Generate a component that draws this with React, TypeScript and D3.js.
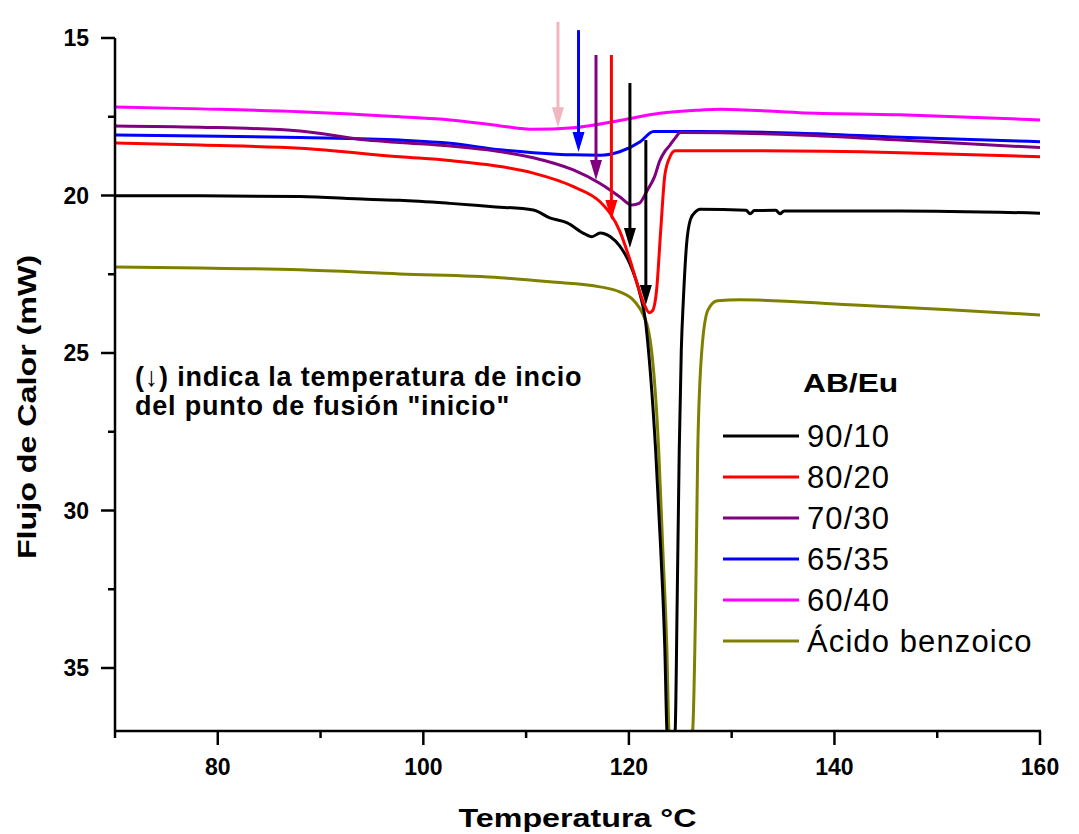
import React from "react";
import * as d3 from "d3";

// Temperatures (°C) and heat flow (mW)
const t6040 = [70, 78.3, 88, 97.7, 102.6, 107.5, 110.7, 114.6, 119.1, 123.0, 126.9, 128.9, 136.6, 146.4, 160];
const v6040 = [17.19, 17.25, 17.34, 17.5, 17.6, 17.79, 17.9, 17.85, 17.62, 17.39, 17.29, 17.26, 17.37, 17.44, 17.6];

const t6535 = [70, 78.3, 88, 97.7, 102.6, 107.5, 110.7, 114.6, 117.2, 119.1, 121.1, 122.4, 126.9, 136.6, 146.4, 160];
const v6535 = [18.08, 18.11, 18.16, 18.24, 18.34, 18.55, 18.64, 18.71, 18.72, 18.61, 18.29, 17.97, 17.97, 18.02, 18.15, 18.29];

const t7030 = [70, 78.3, 88, 94.5, 97.7, 102.6, 107.5, 110.7, 114.6, 117.2, 119.1, 120.3, 121.0, 121.8, 122.5, 123.0, 123.5, 124.0, 124.5, 125.0, 136.6, 146.4, 160];
const v7030 = [17.79, 17.83, 17.95, 18.24, 18.32, 18.43, 18.61, 18.8, 19.19, 19.62, 20.04, 20.3, 20.25, 19.83, 19.4, 18.9, 18.6, 18.4, 18.18, 18.0, 18.08, 18.24, 18.48];

const t8020 = [70, 78.3, 88, 97.7, 102.6, 107.5, 110.7, 114.6, 117.2, 118.2, 119.1, 120.1, 120.9, 121.5, 122, 122.3, 122.7, 123.1, 123.5, 124, 124.5, 131.8, 146.4, 160];
const v8020 = [18.33, 18.4, 18.5, 18.77, 18.89, 19.08, 19.29, 19.72, 20.2, 20.58, 21.12, 22.04, 22.9, 23.47, 23.72, 23.66, 22.99, 21.09, 19.35, 18.77, 18.58, 18.58, 18.64, 18.77];

const t9010 = [70, 78.3, 88, 94.5, 97.7, 102.6, 106.5, 110.7, 112.3, 114.0, 115.7, 116.4, 117.2, 118.2, 119.1, 120.1, 121.1, 121.6, 121.9, 122.6, 123.1, 123.5, 123.7, 124, 124.5, 124.7, 124.9, 125.1, 125.3, 125.6, 126.0, 126.5, 126.9, 131.4, 131.8, 132.2, 134.3, 134.7, 135.1, 146.4, 160];
const v9010 = [20.01, 20.01, 20.03, 20.12, 20.15, 20.25, 20.35, 20.46, 20.71, 20.87, 21.22, 21.31, 21.19, 21.31, 21.6, 22.17, 23.15, 23.95, 24.9, 28.07, 31.24, 34.42, 36.99, 37.9, 37, 32.83, 28.07, 24.9, 23.31, 21.6, 20.75, 20.51, 20.44, 20.47, 20.58, 20.48, 20.47, 20.58, 20.49, 20.49, 20.56];

const tAB = [70, 78.3, 88, 97.7, 107.5, 112.3, 117.2, 119.1, 120.6, 121.4, 121.9, 122.2, 122.9, 123.3, 123.7, 123.9, 125, 126.2, 126.5, 126.7, 127.1, 127.7, 128.6, 130.8, 141.5, 151.2, 160];
const vAB = [22.27, 22.3, 22.36, 22.49, 22.61, 22.74, 22.9, 23.06, 23.38, 23.79, 24.27, 24.9, 28.07, 31.24, 34.42, 36.99, 38.5, 37, 32.83, 28.07, 24.9, 23.63, 23.34, 23.31, 23.47, 23.63, 23.79];

const seriesNames = ["90/10", "80/20", "70/30", "65/35", "60/40", "Ácido benzoico"];
const seriesColors = ["#000000", "#FF0000", "#800080", "#0000FF", "#FF00FF", "#808000"];
const seriesT = [t9010, t8020, t7030, t6535, t6040, tAB];
const seriesV = [v9010, v8020, v7030, v6535, v6040, vAB];
// drawing order (back to front)
const drawOrder = [4, 3, 2, 5, 0, 1];

// onset arrows: temperature, start and tip heat-flow values
const arrowT = [113.1, 115.1, 116.8, 118.3, 120.1, 121.65];
const arrowFrom = [14.49, 14.75, 15.54, 15.54, 16.43, 18.24];
const arrowTo = [17.83, 18.62, 19.51, 20.78, 21.67, 23.48];
const arrowColors = ["#F2B6C0", "#0000FF", "#800080", "#FF0000", "#000000", "#000000"];

const xMajor = [80, 100, 120, 140, 160];
const xMinor = [70, 90, 110, 130, 150];
const yMajor = [15, 20, 25, 30, 35];
const yMinor = [17.5, 22.5, 27.5, 32.5];

export default function App() {
  const W = 1079, H = 834;
  const left = 115, right = 1040, top = 38, bottom = 731;
  const x = d3.scaleLinear().domain([70, 160]).range([left, right]);
  const y = d3.scaleLinear().domain([15, 37]).range([top, bottom]);
  const line = d3.line<[number, number]>().x(d => x(d[0])).y(d => y(d[1])).curve(d3.curveMonotoneX);
  const font = "'Liberation Sans', Arial, Helvetica, sans-serif";

  return (
    <svg width={W} height={H} style={{ position: "absolute", left: 0, top: 0, background: "#fff" }} fontFamily={font}>
      <defs>
        <clipPath id="plot">
          <rect x={left} y={0} width={right - left} height={bottom} />
        </clipPath>
      </defs>
      <rect x={0} y={0} width={W} height={H} fill="#fff" />
      <g clipPath="url(#plot)">
        {drawOrder.map(i => {
          const pts = seriesT[i].map((t, k) => [t, seriesV[i][k]] as [number, number]);
          return <path key={i} d={line(pts) || ""} fill="none" stroke={seriesColors[i]} strokeWidth={3} strokeLinejoin="round" />;
        })}
      </g>
      {arrowT.map((t, i) => {
        const ax = x(t), y0 = y(arrowFrom[i]), y1 = y(arrowTo[i]);
        const hl = 20, hw = 6;
        return (
          <g key={i}>
            <line x1={ax} x2={ax} y1={y0} y2={y1 - hl + 2} stroke={arrowColors[i]} strokeWidth={3} />
            <path d={`M${ax - hw},${y1 - hl} L${ax + hw},${y1 - hl} L${ax},${y1} Z`} fill={arrowColors[i]} />
          </g>
        );
      })}
      {/* axes */}
      <line x1={left} x2={left} y1={top} y2={bottom} stroke="#000" strokeWidth={2.5} />
      <line x1={left - 1} x2={right + 1} y1={bottom} y2={bottom} stroke="#000" strokeWidth={2.5} />
      {yMajor.map(v => (
        <g key={"ym" + v}>
          <line x1={left - 14} x2={left} y1={y(v)} y2={y(v)} stroke="#000" strokeWidth={2.5} />
          <text x={left - 26} y={y(v) + 8} textAnchor="end" fontSize={23} fontWeight="bold">{v}</text>
        </g>
      ))}
      {yMinor.map(v => (
        <line key={"yn" + v} x1={left - 7} x2={left} y1={y(v)} y2={y(v)} stroke="#000" strokeWidth={2.5} />
      ))}
      {xMajor.map(v => (
        <g key={"xm" + v}>
          <line x1={x(v)} x2={x(v)} y1={bottom} y2={bottom + 14} stroke="#000" strokeWidth={2.5} />
          <text x={x(v)} y={bottom + 44} textAnchor="middle" fontSize={23} fontWeight="bold">{v}</text>
        </g>
      ))}
      {xMinor.map(v => (
        <line key={"xn" + v} x1={x(v)} x2={x(v)} y1={bottom} y2={bottom + 7} stroke="#000" strokeWidth={2.5} />
      ))}
      <text transform={`translate(${(left + right) / 2},827) scale(1.24,1)`} textAnchor="middle" fontSize={26} fontWeight="bold">Temperatura °C</text>
      <text transform={`translate(36,407) rotate(-90) scale(1.24,1)`} textAnchor="middle" fontSize={26} fontWeight="bold">Flujo de Calor (mW)</text>
      {/* annotation */}
      <text x={135} y={386} fontSize={27} fontWeight="bold" letterSpacing={0.8}>(↓) indica la temperatura de incio</text>
      <text x={135} y={415} fontSize={27} fontWeight="bold" letterSpacing={0.8}>del punto de fusión "inicio"</text>
      {/* legend */}
      <text transform="translate(803,392) scale(1.27,1)" fontSize={25} fontWeight="bold">AB/Eu</text>
      {seriesNames.map((n, i) => {
        const ly = 436 + i * 41;
        return (
          <g key={n}>
            <line x1={723} x2={799} y1={ly} y2={ly} stroke={seriesColors[i]} strokeWidth={3} />
            <text x={807} y={ly + 11} fontSize={31} letterSpacing={1.1}>{n}</text>
          </g>
        );
      })}
    </svg>
  );
}
